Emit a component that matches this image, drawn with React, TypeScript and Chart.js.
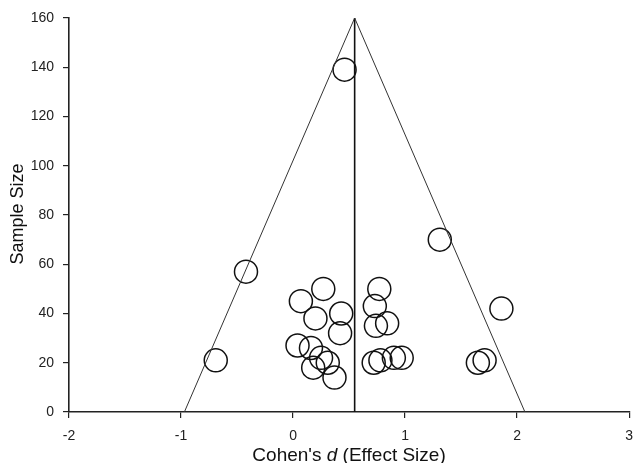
import React, { useEffect, useRef } from "react";
import { Chart, registerables } from "chart.js";

Chart.register(...registerables);

// Study effect sizes (Cohen's d) and sample sizes
const effectSizes = [
  0.46, 1.31, -0.42, -0.69, 0.27, 0.07, 0.2, 0.43, 0.42, 0.04, 0.16, 0.25, 0.31,
  0.18, 0.37, 0.77, 0.73, 0.74, 0.84, 0.72, 0.78, 0.9, 0.97, 1.65, 1.71, 1.86,
];
const sampleSizes = [
  139, 70, 57, 21, 50, 45, 38, 40, 32, 27, 26, 22, 20, 18, 14, 50, 43, 35, 36,
  20, 21, 22, 22, 20, 21, 42,
];

// Funnel outline (x at N=0 left, apex, x at N=0 right) and mean effect
const funnelX = [-0.97, 0.55, 2.07];
const funnelY = [0, 160, 0];
const meanEffect = 0.55;
const meanLineY = [0, 160];

const xTicks = [-2, -1, 0, 1, 2, 3];
const yTicks = [0, 20, 40, 60, 80, 100, 120, 140, 160];

const FONT = '"Liberation Sans", Arial, Helvetica, sans-serif';

const titlePlugin = {
  id: "customTitles",
  afterDraw(chart: any) {
    const ctx = chart.ctx as CanvasRenderingContext2D;
    const { left, right, top, bottom } = chart.chartArea;
    ctx.save();
    ctx.fillStyle = "#111";
    ctx.textBaseline = "alphabetic";
    // x title with italic d
    const size = 19;
    const parts: [string, string][] = [
      ["Cohen's ", "normal"],
      ["d", "italic"],
      [" (Effect Size)", "normal"],
    ];
    let total = 0;
    const widths: number[] = [];
    for (const [t, st] of parts) {
      ctx.font = `${st} ${size}px ${FONT}`;
      const w = ctx.measureText(t).width;
      widths.push(w);
      total += w;
    }
    let x = (left + right) / 2 - total / 2;
    const y = 461;
    ctx.textAlign = "left";
    parts.forEach(([t, st], i) => {
      ctx.font = `${st} ${size}px ${FONT}`;
      ctx.fillText(t, x, y);
      x += widths[i];
    });
    // y title
    ctx.translate(23, (top + bottom) / 2 - 1);
    ctx.rotate(-Math.PI / 2);
    ctx.textAlign = "center";
    ctx.font = `normal 18px ${FONT}`;
    ctx.fillText("Sample Size", 0, 0);
    ctx.restore();
  },
};

export default function App() {
  const ref = useRef<HTMLCanvasElement>(null);

  useEffect(() => {
    if (!ref.current) return;
    const points = effectSizes.map((v, i) => ({ x: v, y: sampleSizes[i] }));
    const funnel = funnelX.map((v, i) => ({ x: v, y: funnelY[i] }));
    const mean = meanLineY.map((v) => ({ x: meanEffect, y: v }));

    const chart = new Chart(ref.current, {
      type: "scatter",
      data: {
        datasets: [
          {
            label: "Funnel",
            data: funnel,
            showLine: true,
            borderColor: "#333",
            borderWidth: 1,
            pointRadius: 0,
            fill: false,
          },
          {
            label: "Mean",
            data: mean,
            showLine: true,
            borderColor: "#111",
            borderWidth: 1.6,
            pointRadius: 0,
            fill: false,
          },
          {
            label: "Studies",
            data: points,
            pointRadius: 11.5,
            pointStyle: "circle",
            backgroundColor: "rgba(0,0,0,0)",
            borderColor: "#111",
            borderWidth: 1.5,
          },
        ],
      },
      options: {
        responsive: false,
        animation: false,
        layout: { padding: { top: 18, right: 4, left: 0, bottom: 0 } },
        plugins: {
          legend: { display: false },
          tooltip: { enabled: false },
        },
        scales: {
          x: {
            type: "linear",
            min: -2,
            max: 3,
            afterBuildTicks: (s: any) => {
              s.ticks = xTicks.map((v) => ({ value: v }));
            },
            afterFit: (s: any) => {
              s.height = 51;
            },
            grid: {
              display: true,
              drawOnChartArea: false,
              drawTicks: true,
              tickLength: 6,
              color: "#222",
              lineWidth: 1.2,
            },
            border: { display: true, color: "#222", width: 1.6 },
            ticks: {
              color: "#222",
              padding: 10,
              font: { family: FONT, size: 14 },
            },
          },
          y: {
            type: "linear",
            min: 0,
            max: 160,
            afterBuildTicks: (s: any) => {
              s.ticks = yTicks.map((v) => ({ value: v }));
            },
            afterFit: (s: any) => {
              s.width = 69;
            },
            grid: {
              display: true,
              drawOnChartArea: false,
              drawTicks: true,
              tickLength: 6,
              color: "#222",
              lineWidth: 1.2,
            },
            border: { display: true, color: "#222", width: 1.6 },
            ticks: {
              color: "#222",
              padding: 9,
              font: { family: FONT, size: 14 },
            },
          },
        },
      },
      plugins: [titlePlugin],
    });
    return () => chart.destroy();
  }, []);

  return (
    <div
      style={{
        position: "fixed",
        left: 0,
        top: 0,
        width: 633,
        height: 463,
        overflow: "hidden",
        background: "#fff",
      }}
    >
      <canvas ref={ref} width={643} height={463} style={{ display: "block" }} />
    </div>
  );
}
